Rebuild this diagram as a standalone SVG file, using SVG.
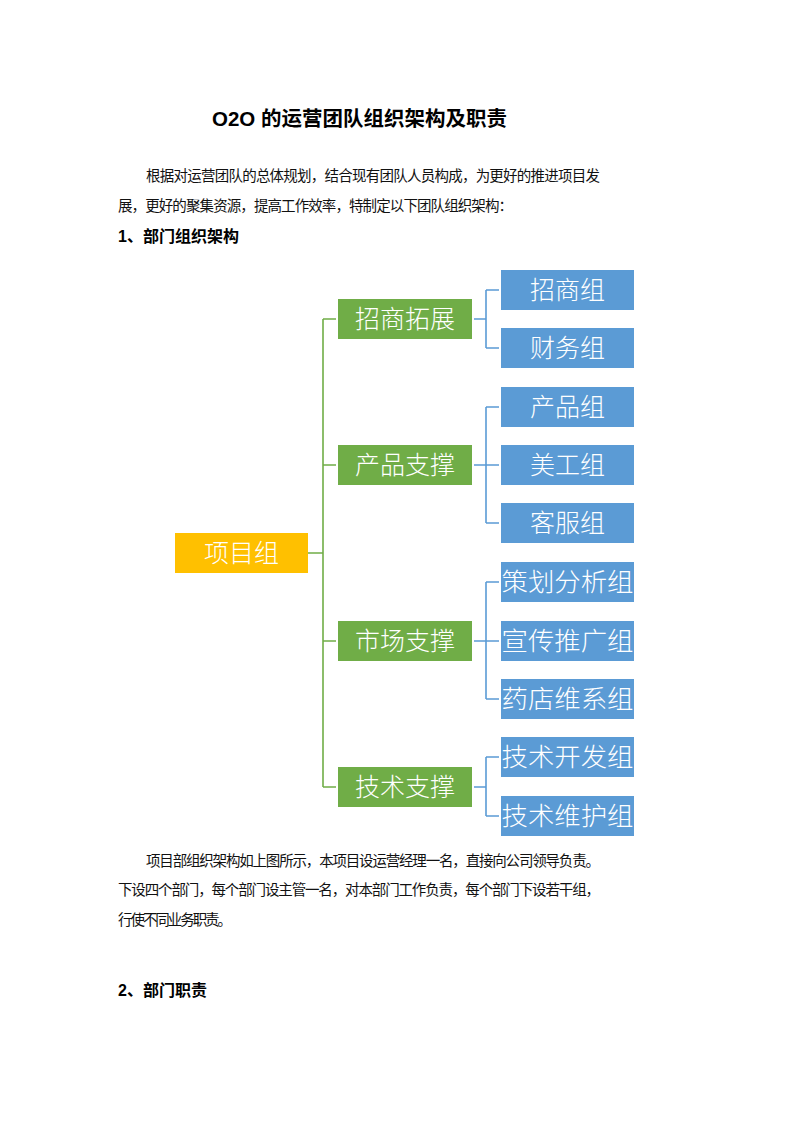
<svg xmlns="http://www.w3.org/2000/svg" width="793" height="1122" viewBox="0 0 793 1122">
<style>
.body{font-family:"Noto Sans CJK SC","Liberation Serif",serif;font-size:14.5px;fill:#111}
.head{font-family:"Liberation Sans","Noto Sans CJK SC",sans-serif;font-weight:bold;fill:#000}
.lbl{font-family:"Noto Sans CJK SC",sans-serif;font-size:25px;fill:#fff;text-anchor:middle;font-weight:300}
.root{fill:#FFC000}
.dept{fill:#70AD47}
.grp{fill:#5B9BD5}
.gl{stroke:#70AD47;stroke-width:1.6;fill:none}
.bl{stroke:#5B9BD5;stroke-width:1.6;fill:none}
</style>
<rect width="793" height="1122" fill="#fff"/>
<text class="head" x="212" y="126" font-size="20.5">O2O 的运营团队组织架构及职责</text>
<text class="body" x="146" y="181" textLength="454" lengthAdjust="spacing">根据对运营团队的总体规划，结合现有团队人员构成，为更好的推进项目发</text>
<text class="body" x="118" y="211" textLength="395" lengthAdjust="spacing">展，更好的聚集资源，提高工作效率，特制定以下团队组织架构：</text>
<text class="head" x="118" y="242" font-size="16">1、部门组织架构</text>

<g id="connectors">
<path class="gl" d="M308 553H323M323 319V787M323 319H336M323 465H336M323 641H336M323 787H336"/>
<path class="bl" d="M474 319H486M486 290V348M486 290H499M486 348H499"/>
<path class="bl" d="M474 465H499M486 407V523M486 407H499M486 523H499"/>
<path class="bl" d="M474 641H499M486 582V699M486 582H499M486 699H499"/>
<path class="bl" d="M474 787H486M486 757V816M486 757H499M486 816H499"/>
</g>

<g id="n-root"><rect class="root" x="175" y="533" width="133" height="40"/><text class="lbl" x="241.5" y="562">项目组</text></g>

<g id="n-zsjt"><rect class="dept" x="338" y="299" width="134" height="40"/><text class="lbl" x="405" y="328">招商拓展</text></g>
<g id="n-cpzc"><rect class="dept" x="338" y="445" width="134" height="40"/><text class="lbl" x="405" y="474">产品支撑</text></g>
<g id="n-sczc"><rect class="dept" x="338" y="621" width="134" height="40"/><text class="lbl" x="405" y="650">市场支撑</text></g>
<g id="n-jszc"><rect class="dept" x="338" y="767" width="134" height="40"/><text class="lbl" x="405" y="796">技术支撑</text></g>

<g id="n-zsz"><rect class="grp" x="501" y="270" width="133" height="40"/><text class="lbl" x="567.5" y="299">招商组</text></g>
<g id="n-cwz"><rect class="grp" x="501" y="328" width="133" height="40"/><text class="lbl" x="567.5" y="357">财务组</text></g>
<g id="n-cpz"><rect class="grp" x="501" y="387" width="133" height="40"/><text class="lbl" x="567.5" y="416">产品组</text></g>
<g id="n-mgz"><rect class="grp" x="501" y="445" width="133" height="40"/><text class="lbl" x="567.5" y="474">美工组</text></g>
<g id="n-kfz"><rect class="grp" x="501" y="503" width="133" height="40"/><text class="lbl" x="567.5" y="532">客服组</text></g>
<g id="n-chfx"><rect class="grp" x="501" y="562" width="133" height="40"/><text class="lbl" x="567.5" y="591" textLength="132" lengthAdjust="spacingAndGlyphs">策划分析组</text></g>
<g id="n-xctg"><rect class="grp" x="501" y="621" width="133" height="40"/><text class="lbl" x="567.5" y="650" textLength="132" lengthAdjust="spacingAndGlyphs">宣传推广组</text></g>
<g id="n-ydwx"><rect class="grp" x="501" y="679" width="133" height="40"/><text class="lbl" x="567.5" y="708" textLength="132" lengthAdjust="spacingAndGlyphs">药店维系组</text></g>
<g id="n-jskf"><rect class="grp" x="501" y="737" width="133" height="40"/><text class="lbl" x="567.5" y="766" textLength="132" lengthAdjust="spacingAndGlyphs">技术开发组</text></g>
<g id="n-jswh"><rect class="grp" x="501" y="796" width="133" height="40"/><text class="lbl" x="567.5" y="825" textLength="132" lengthAdjust="spacingAndGlyphs">技术维护组</text></g>

<text class="body" x="146" y="866" textLength="454" lengthAdjust="spacing">项目部组织架构如上图所示，本项目设运营经理一名，直接向公司领导负责。</text>
<text class="body" x="118" y="895" textLength="482" lengthAdjust="spacing">下设四个部门，每个部门设主管一名，对本部门工作负责，每个部门下设若干组，</text>
<text class="body" x="118" y="925" textLength="114" lengthAdjust="spacing">行使不同业务职责。</text>
<text class="head" x="118" y="996" font-size="16">2、部门职责</text>
</svg>
